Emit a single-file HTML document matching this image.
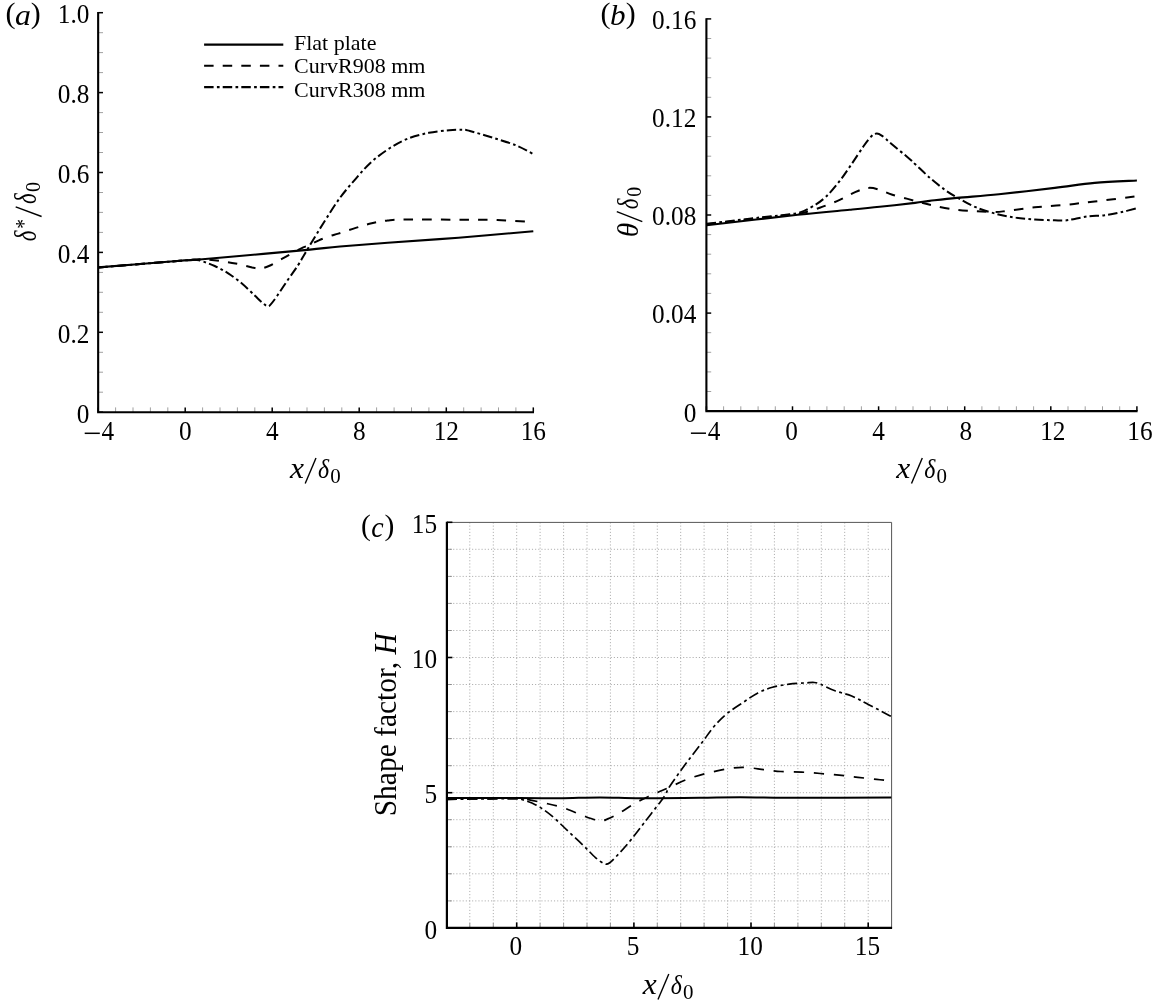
<!DOCTYPE html>
<html><head><meta charset="utf-8"><title>Figure</title>
<style>
html,body{margin:0;padding:0;background:#fff;}
body{width:1152px;height:1007px;overflow:hidden;font-family:"Liberation Serif",serif;}
svg{display:block;will-change:transform;}
</style></head><body>
<svg width="1152" height="1007" viewBox="0 0 1152 1007" font-family="'Liberation Serif', serif" fill="#000">
<rect width="1152" height="1007" fill="#fff"/>
<line x1="98.15" y1="392.2" x2="103.0" y2="392.2" stroke="#888" stroke-width="0.8"/>
<line x1="98.15" y1="372.2" x2="103.0" y2="372.2" stroke="#888" stroke-width="0.8"/>
<line x1="98.15" y1="352.3" x2="103.0" y2="352.3" stroke="#888" stroke-width="0.8"/>
<line x1="98.15" y1="312.3" x2="103.0" y2="312.3" stroke="#888" stroke-width="0.8"/>
<line x1="98.15" y1="292.3" x2="103.0" y2="292.3" stroke="#888" stroke-width="0.8"/>
<line x1="98.15" y1="272.4" x2="103.0" y2="272.4" stroke="#888" stroke-width="0.8"/>
<line x1="98.15" y1="232.4" x2="103.0" y2="232.4" stroke="#888" stroke-width="0.8"/>
<line x1="98.15" y1="212.4" x2="103.0" y2="212.4" stroke="#888" stroke-width="0.8"/>
<line x1="98.15" y1="192.5" x2="103.0" y2="192.5" stroke="#888" stroke-width="0.8"/>
<line x1="98.15" y1="152.5" x2="103.0" y2="152.5" stroke="#888" stroke-width="0.8"/>
<line x1="98.15" y1="132.5" x2="103.0" y2="132.5" stroke="#888" stroke-width="0.8"/>
<line x1="98.15" y1="112.6" x2="103.0" y2="112.6" stroke="#888" stroke-width="0.8"/>
<line x1="98.15" y1="72.6" x2="103.0" y2="72.6" stroke="#888" stroke-width="0.8"/>
<line x1="98.15" y1="52.6" x2="103.0" y2="52.6" stroke="#888" stroke-width="0.8"/>
<line x1="98.15" y1="32.7" x2="103.0" y2="32.7" stroke="#888" stroke-width="0.8"/>
<line x1="98.15" y1="412.2" x2="103.0" y2="412.2" stroke="#000" stroke-width="1.5"/>
<text transform="translate(89.4,422.6) scale(1,1.065)" font-size="25.3" text-anchor="end">0</text>
<line x1="98.15" y1="332.3" x2="103.0" y2="332.3" stroke="#000" stroke-width="1.5"/>
<text transform="translate(89.4,342.7) scale(1,1.065)" font-size="25.3" text-anchor="end">0.2</text>
<line x1="98.15" y1="252.4" x2="103.0" y2="252.4" stroke="#000" stroke-width="1.5"/>
<text transform="translate(89.4,262.8) scale(1,1.065)" font-size="25.3" text-anchor="end">0.4</text>
<line x1="98.15" y1="172.5" x2="103.0" y2="172.5" stroke="#000" stroke-width="1.5"/>
<text transform="translate(89.4,182.9) scale(1,1.065)" font-size="25.3" text-anchor="end">0.6</text>
<line x1="98.15" y1="92.6" x2="103.0" y2="92.6" stroke="#000" stroke-width="1.5"/>
<text transform="translate(89.4,103.0) scale(1,1.065)" font-size="25.3" text-anchor="end">0.8</text>
<line x1="98.15" y1="12.7" x2="103.0" y2="12.7" stroke="#000" stroke-width="1.5"/>
<text transform="translate(89.4,23.1) scale(1,1.065)" font-size="25.3" text-anchor="end">1.0</text>
<line x1="115.6" y1="412.2" x2="115.6" y2="407.4" stroke="#888" stroke-width="0.8"/>
<line x1="133.0" y1="412.2" x2="133.0" y2="407.4" stroke="#888" stroke-width="0.8"/>
<line x1="150.4" y1="412.2" x2="150.4" y2="407.4" stroke="#888" stroke-width="0.8"/>
<line x1="167.8" y1="412.2" x2="167.8" y2="407.4" stroke="#888" stroke-width="0.8"/>
<line x1="202.6" y1="412.2" x2="202.6" y2="407.4" stroke="#888" stroke-width="0.8"/>
<line x1="220.0" y1="412.2" x2="220.0" y2="407.4" stroke="#888" stroke-width="0.8"/>
<line x1="237.4" y1="412.2" x2="237.4" y2="407.4" stroke="#888" stroke-width="0.8"/>
<line x1="254.8" y1="412.2" x2="254.8" y2="407.4" stroke="#888" stroke-width="0.8"/>
<line x1="289.6" y1="412.2" x2="289.6" y2="407.4" stroke="#888" stroke-width="0.8"/>
<line x1="307.0" y1="412.2" x2="307.0" y2="407.4" stroke="#888" stroke-width="0.8"/>
<line x1="324.4" y1="412.2" x2="324.4" y2="407.4" stroke="#888" stroke-width="0.8"/>
<line x1="341.8" y1="412.2" x2="341.8" y2="407.4" stroke="#888" stroke-width="0.8"/>
<line x1="376.6" y1="412.2" x2="376.6" y2="407.4" stroke="#888" stroke-width="0.8"/>
<line x1="394.1" y1="412.2" x2="394.1" y2="407.4" stroke="#888" stroke-width="0.8"/>
<line x1="411.5" y1="412.2" x2="411.5" y2="407.4" stroke="#888" stroke-width="0.8"/>
<line x1="428.9" y1="412.2" x2="428.9" y2="407.4" stroke="#888" stroke-width="0.8"/>
<line x1="463.7" y1="412.2" x2="463.7" y2="407.4" stroke="#888" stroke-width="0.8"/>
<line x1="481.1" y1="412.2" x2="481.1" y2="407.4" stroke="#888" stroke-width="0.8"/>
<line x1="498.5" y1="412.2" x2="498.5" y2="407.4" stroke="#888" stroke-width="0.8"/>
<line x1="515.9" y1="412.2" x2="515.9" y2="407.4" stroke="#888" stroke-width="0.8"/>
<line x1="98.2" y1="412.2" x2="98.2" y2="407.4" stroke="#000" stroke-width="1.5"/>
<line x1="185.2" y1="412.2" x2="185.2" y2="407.4" stroke="#000" stroke-width="1.5"/>
<line x1="272.2" y1="412.2" x2="272.2" y2="407.4" stroke="#000" stroke-width="1.5"/>
<line x1="359.2" y1="412.2" x2="359.2" y2="407.4" stroke="#000" stroke-width="1.5"/>
<line x1="446.3" y1="412.2" x2="446.3" y2="407.4" stroke="#000" stroke-width="1.5"/>
<line x1="533.3" y1="412.2" x2="533.3" y2="407.4" stroke="#000" stroke-width="1.5"/>
<path d="M98.15,12.0 V412.2 H534.0" fill="none" stroke="#000" stroke-width="2.1" stroke-linejoin="miter"/>
<text transform="translate(185.2,439.8) scale(1,1.065)" font-size="25.3" text-anchor="middle">0</text>
<text transform="translate(272.2,439.8) scale(1,1.065)" font-size="25.3" text-anchor="middle">4</text>
<text transform="translate(359.2,439.8) scale(1,1.065)" font-size="25.3" text-anchor="middle">8</text>
<text transform="translate(446.3,439.8) scale(1,1.065)" font-size="25.3" text-anchor="middle">12</text>
<text transform="translate(533.3,439.8) scale(1,1.065)" font-size="25.3" text-anchor="middle">16</text>
<line x1="84.7" y1="433.3" x2="99.8" y2="433.3" stroke="#000" stroke-width="1.5" transform="translate(-0.00,0.0)"/>
<text transform="translate(101.5,439.8) scale(1,1.065)" font-size="25.3" text-anchor="start">4</text>
<path d="M98.3,267.4 C111.9,266.3 163.9,262.1 180.0,260.8 C196.1,259.5 191.5,259.8 195.0,259.8 C198.5,259.8 197.5,259.8 200.8,260.8 C204.1,261.8 210.1,263.9 214.7,266.0 C219.3,268.1 224.0,270.6 228.6,273.6 C233.2,276.6 238.1,280.3 242.5,284.0 C246.9,287.7 251.5,292.6 255.0,295.8 C258.5,299.1 261.2,301.8 263.3,303.5 C265.4,305.2 266.3,305.8 267.5,306.0 C268.7,306.2 268.7,306.6 270.3,304.9 C271.9,303.2 274.2,300.1 277.2,295.8 C280.2,291.5 284.8,284.3 288.3,279.2 C291.8,274.1 295.2,269.6 298.0,265.3 C300.8,261.0 302.7,257.4 305.0,253.5 C307.3,249.6 308.9,246.8 312.0,241.7 C315.1,236.6 318.9,230.2 323.5,223.0 C328.1,215.8 334.3,205.6 339.7,198.2 C345.1,190.8 350.4,184.9 355.7,178.8 C361.0,172.7 366.0,166.8 371.7,161.7 C377.4,156.6 383.9,151.9 390.0,148.0 C396.1,144.1 401.7,141.0 408.2,138.5 C414.7,136.0 421.9,134.2 428.8,132.8 C435.7,131.4 443.6,130.7 449.3,130.2 C455.0,129.7 459.6,129.7 463.0,129.8 C466.4,129.9 464.9,129.7 469.9,131.0 C474.8,132.3 485.1,135.3 492.7,137.7 C500.3,140.1 508.8,142.5 515.6,145.2 C522.4,147.9 530.3,152.6 533.3,154.1" fill="none" stroke="#000" stroke-width="2.0" stroke-dasharray="9.5 3.3 2.7 3.1"/>
<path d="M98.3,267.4 C111.9,266.3 163.1,262.1 180.0,260.8 C196.9,259.5 195.4,259.5 200.0,259.3 C204.6,259.1 204.5,259.2 207.8,259.5 C211.1,259.8 215.4,260.3 220.0,261.0 C224.6,261.7 230.2,262.4 235.6,263.5 C241.0,264.6 248.3,266.5 252.2,267.4 C256.1,268.2 256.4,268.8 259.2,268.6 C262.0,268.4 264.7,267.8 268.9,266.0 C273.1,264.2 278.9,260.5 284.2,257.6 C289.5,254.7 296.5,250.7 300.8,248.6 C305.1,246.5 307.0,246.2 310.0,244.8 C313.0,243.4 315.5,241.8 318.9,240.3 C322.3,238.8 327.4,237.0 330.6,235.9 C333.8,234.8 334.1,234.9 338.3,233.6 C342.5,232.3 350.1,229.6 355.7,227.9 C361.3,226.2 366.4,224.6 371.7,223.3 C377.0,222.1 382.0,221.1 387.7,220.4 C393.4,219.8 394.1,219.5 405.9,219.4 C417.7,219.3 443.3,219.6 458.5,219.7 C473.7,219.8 484.8,219.7 497.3,220.1 C509.8,220.5 527.3,221.8 533.3,222.2" fill="none" stroke="#000" stroke-width="2.0" stroke-dasharray="9.5 9.1"/>
<path d="M98.3,267.4 C111.9,266.3 162.7,262.2 180.0,260.8 C197.3,259.4 188.5,260.3 202.4,259.2 C216.3,258.1 245.4,255.5 263.3,253.9 C281.2,252.3 297.2,250.8 310.0,249.6 C322.8,248.4 327.1,247.6 340.0,246.5 C352.9,245.4 367.9,244.3 387.7,242.8 C407.4,241.3 434.2,239.6 458.5,237.7 C482.8,235.8 520.8,232.3 533.3,231.2" fill="none" stroke="#000" stroke-width="2.1"/>
<line x1="706.4" y1="391.5" x2="711.2" y2="391.5" stroke="#888" stroke-width="0.8"/>
<line x1="706.4" y1="371.9" x2="711.2" y2="371.9" stroke="#888" stroke-width="0.8"/>
<line x1="706.4" y1="352.3" x2="711.2" y2="352.3" stroke="#888" stroke-width="0.8"/>
<line x1="706.4" y1="332.7" x2="711.2" y2="332.7" stroke="#888" stroke-width="0.8"/>
<line x1="706.4" y1="293.4" x2="711.2" y2="293.4" stroke="#888" stroke-width="0.8"/>
<line x1="706.4" y1="273.8" x2="711.2" y2="273.8" stroke="#888" stroke-width="0.8"/>
<line x1="706.4" y1="254.2" x2="711.2" y2="254.2" stroke="#888" stroke-width="0.8"/>
<line x1="706.4" y1="234.6" x2="711.2" y2="234.6" stroke="#888" stroke-width="0.8"/>
<line x1="706.4" y1="195.4" x2="711.2" y2="195.4" stroke="#888" stroke-width="0.8"/>
<line x1="706.4" y1="175.8" x2="711.2" y2="175.8" stroke="#888" stroke-width="0.8"/>
<line x1="706.4" y1="156.2" x2="711.2" y2="156.2" stroke="#888" stroke-width="0.8"/>
<line x1="706.4" y1="136.6" x2="711.2" y2="136.6" stroke="#888" stroke-width="0.8"/>
<line x1="706.4" y1="97.3" x2="711.2" y2="97.3" stroke="#888" stroke-width="0.8"/>
<line x1="706.4" y1="77.7" x2="711.2" y2="77.7" stroke="#888" stroke-width="0.8"/>
<line x1="706.4" y1="58.1" x2="711.2" y2="58.1" stroke="#888" stroke-width="0.8"/>
<line x1="706.4" y1="38.5" x2="711.2" y2="38.5" stroke="#888" stroke-width="0.8"/>
<line x1="706.4" y1="411.1" x2="711.2" y2="411.1" stroke="#000" stroke-width="1.5"/>
<text transform="translate(696.3,421.5) scale(1,1.065)" font-size="25.3" text-anchor="end">0</text>
<line x1="706.4" y1="313.1" x2="711.2" y2="313.1" stroke="#000" stroke-width="1.5"/>
<text transform="translate(696.3,323.4) scale(1,1.065)" font-size="25.3" text-anchor="end">0.04</text>
<line x1="706.4" y1="215.0" x2="711.2" y2="215.0" stroke="#000" stroke-width="1.5"/>
<text transform="translate(696.3,225.4) scale(1,1.065)" font-size="25.3" text-anchor="end">0.08</text>
<line x1="706.4" y1="116.9" x2="711.2" y2="116.9" stroke="#000" stroke-width="1.5"/>
<text transform="translate(696.3,127.3) scale(1,1.065)" font-size="25.3" text-anchor="end">0.12</text>
<line x1="706.4" y1="18.9" x2="711.2" y2="18.9" stroke="#000" stroke-width="1.5"/>
<text transform="translate(696.3,29.3) scale(1,1.065)" font-size="25.3" text-anchor="end">0.16</text>
<line x1="723.6" y1="411.1" x2="723.6" y2="406.3" stroke="#888" stroke-width="0.8"/>
<line x1="740.8" y1="411.1" x2="740.8" y2="406.3" stroke="#888" stroke-width="0.8"/>
<line x1="758.1" y1="411.1" x2="758.1" y2="406.3" stroke="#888" stroke-width="0.8"/>
<line x1="775.3" y1="411.1" x2="775.3" y2="406.3" stroke="#888" stroke-width="0.8"/>
<line x1="809.7" y1="411.1" x2="809.7" y2="406.3" stroke="#888" stroke-width="0.8"/>
<line x1="826.9" y1="411.1" x2="826.9" y2="406.3" stroke="#888" stroke-width="0.8"/>
<line x1="844.2" y1="411.1" x2="844.2" y2="406.3" stroke="#888" stroke-width="0.8"/>
<line x1="861.4" y1="411.1" x2="861.4" y2="406.3" stroke="#888" stroke-width="0.8"/>
<line x1="895.8" y1="411.1" x2="895.8" y2="406.3" stroke="#888" stroke-width="0.8"/>
<line x1="913.0" y1="411.1" x2="913.0" y2="406.3" stroke="#888" stroke-width="0.8"/>
<line x1="930.3" y1="411.1" x2="930.3" y2="406.3" stroke="#888" stroke-width="0.8"/>
<line x1="947.5" y1="411.1" x2="947.5" y2="406.3" stroke="#888" stroke-width="0.8"/>
<line x1="981.9" y1="411.1" x2="981.9" y2="406.3" stroke="#888" stroke-width="0.8"/>
<line x1="999.1" y1="411.1" x2="999.1" y2="406.3" stroke="#888" stroke-width="0.8"/>
<line x1="1016.4" y1="411.1" x2="1016.4" y2="406.3" stroke="#888" stroke-width="0.8"/>
<line x1="1033.6" y1="411.1" x2="1033.6" y2="406.3" stroke="#888" stroke-width="0.8"/>
<line x1="1068.0" y1="411.1" x2="1068.0" y2="406.3" stroke="#888" stroke-width="0.8"/>
<line x1="1085.2" y1="411.1" x2="1085.2" y2="406.3" stroke="#888" stroke-width="0.8"/>
<line x1="1102.5" y1="411.1" x2="1102.5" y2="406.3" stroke="#888" stroke-width="0.8"/>
<line x1="1119.7" y1="411.1" x2="1119.7" y2="406.3" stroke="#888" stroke-width="0.8"/>
<line x1="706.4" y1="411.1" x2="706.4" y2="406.3" stroke="#000" stroke-width="1.5"/>
<line x1="792.5" y1="411.1" x2="792.5" y2="406.3" stroke="#000" stroke-width="1.5"/>
<line x1="878.6" y1="411.1" x2="878.6" y2="406.3" stroke="#000" stroke-width="1.5"/>
<line x1="964.7" y1="411.1" x2="964.7" y2="406.3" stroke="#000" stroke-width="1.5"/>
<line x1="1050.8" y1="411.1" x2="1050.8" y2="406.3" stroke="#000" stroke-width="1.5"/>
<line x1="1136.9" y1="411.1" x2="1136.9" y2="406.3" stroke="#000" stroke-width="1.5"/>
<path d="M706.4,18.2 V411.1 H1137.6" fill="none" stroke="#000" stroke-width="2.1" stroke-linejoin="miter"/>
<text transform="translate(791.5,439.7) scale(1,1.065)" font-size="25.3" text-anchor="middle">0</text>
<text transform="translate(878.6,439.7) scale(1,1.065)" font-size="25.3" text-anchor="middle">4</text>
<text transform="translate(965.7,439.7) scale(1,1.065)" font-size="25.3" text-anchor="middle">8</text>
<text transform="translate(1052.8,439.7) scale(1,1.065)" font-size="25.3" text-anchor="middle">12</text>
<text transform="translate(1139.9,439.7) scale(1,1.065)" font-size="25.3" text-anchor="middle">16</text>
<line x1="692.9" y1="432.2" x2="708.0" y2="432.2" stroke="#000" stroke-width="1.5" transform="translate(-2.00,1.0)"/>
<text transform="translate(707.7,439.7) scale(1,1.065)" font-size="25.3" text-anchor="start">4</text>
<path d="M706.7,223.8 C715.6,222.8 745.1,219.2 760.0,217.5 C774.9,215.8 787.2,215.2 795.8,213.4 C804.4,211.6 806.8,209.6 811.8,206.8 C816.8,204.1 821.1,201.2 825.8,196.9 C830.4,192.6 835.4,186.4 839.7,180.9 C844.0,175.4 847.7,169.7 851.7,163.9 C855.7,158.1 860.4,150.7 863.7,146.0 C867.0,141.3 869.5,138.1 871.7,136.0 C873.9,133.9 875.0,133.7 876.7,133.6 C878.4,133.5 879.2,133.9 881.7,135.6 C884.2,137.3 887.0,140.1 891.6,144.0 C896.2,147.9 905.7,155.6 909.6,158.9 C913.5,162.2 911.5,160.8 915.0,164.0 C918.5,167.2 925.3,173.9 930.3,178.2 C935.3,182.5 940.4,186.6 945.0,189.9 C949.6,193.2 952.9,195.1 957.9,197.9 C962.9,200.7 968.7,204.3 974.9,206.9 C981.1,209.5 988.2,211.7 994.9,213.5 C1001.5,215.3 1008.1,216.5 1014.8,217.5 C1021.4,218.5 1028.1,219.0 1034.8,219.5 C1041.5,220.0 1049.8,220.1 1054.8,220.3 C1059.8,220.5 1061.4,220.7 1064.7,220.5 C1068.0,220.3 1070.7,219.6 1074.7,218.9 C1078.7,218.2 1083.7,216.9 1088.7,216.3 C1093.7,215.7 1099.4,216.0 1104.7,215.3 C1110.0,214.6 1115.2,213.5 1120.6,212.3 C1126.0,211.1 1134.2,209.0 1136.9,208.3" fill="none" stroke="#000" stroke-width="2.0" stroke-dasharray="9.5 3.3 2.7 3.1"/>
<path d="M706.7,224.2 C715.6,223.2 745.3,219.7 760.0,218.0 C774.7,216.3 788.4,214.9 795.0,214.2 C801.6,213.5 795.7,214.9 799.8,213.8 C803.9,212.7 813.1,210.1 819.8,207.8 C826.4,205.5 833.7,202.6 839.7,199.9 C845.7,197.2 850.9,193.9 855.7,191.9 C860.5,189.9 864.7,188.2 868.7,187.9 C872.7,187.6 875.9,188.8 879.7,189.9 C883.5,191.0 887.0,193.0 891.6,194.5 C896.2,196.0 902.7,197.6 907.6,198.9 C912.5,200.2 916.4,201.3 921.0,202.5 C925.6,203.7 929.4,204.7 935.0,205.9 C940.6,207.1 948.2,208.6 954.9,209.5 C961.5,210.4 968.2,210.7 974.9,211.1 C981.6,211.5 989.6,211.9 994.9,211.9 C1000.2,211.9 1000.1,211.7 1006.8,210.9 C1013.4,210.1 1025.1,208.3 1034.8,207.3 C1044.5,206.3 1054.7,205.9 1064.7,204.9 C1074.7,203.9 1082.7,202.9 1094.7,201.5 C1106.7,200.1 1129.9,197.2 1136.9,196.3" fill="none" stroke="#000" stroke-width="2.0" stroke-dasharray="9.5 9.1"/>
<path d="M706.7,225.2 C721.9,223.5 774.0,217.4 797.8,214.8 C821.6,212.2 836.1,211.1 849.7,209.8 C863.4,208.5 868.8,208.0 879.7,206.8 C890.6,205.7 906.7,203.9 915.0,202.9 C923.3,201.9 922.6,201.7 929.6,200.9 C936.6,200.1 945.4,199.0 956.9,197.9 C968.4,196.8 982.6,196.0 998.9,194.3 C1015.2,192.6 1038.8,189.8 1054.8,187.9 C1070.8,186.0 1081.0,184.1 1094.7,182.9 C1108.4,181.7 1129.9,180.9 1136.9,180.5" fill="none" stroke="#000" stroke-width="2.1"/>
<line x1="204.1" y1="44.6" x2="283.3" y2="44.6" stroke="#000" stroke-width="2.1"/>
<line x1="204.1" y1="65.8" x2="283.3" y2="65.8" stroke="#000" stroke-width="2.1" stroke-dasharray="9.5 9.1"/>
<line x1="204.1" y1="87.1" x2="283.3" y2="87.1" stroke="#000" stroke-width="2.1" stroke-dasharray="9.5 3.3 2.7 3.1"/>
<text x="294.0" y="49.5" font-size="22" text-anchor="start">Flat plate</text>
<text x="294.0" y="73.2" font-size="22" text-anchor="start">CurvR908 mm</text>
<text x="294.0" y="96.5" font-size="22" text-anchor="start">CurvR308 mm</text>
<line x1="469.8" y1="522.4" x2="469.8" y2="927.9" stroke="#adadad" stroke-width="1" stroke-dasharray="1.1 2.05"/>
<line x1="493.3" y1="522.4" x2="493.3" y2="927.9" stroke="#adadad" stroke-width="1" stroke-dasharray="1.1 2.05"/>
<line x1="516.7" y1="522.4" x2="516.7" y2="927.9" stroke="#adadad" stroke-width="1" stroke-dasharray="1.1 2.05"/>
<line x1="540.1" y1="522.4" x2="540.1" y2="927.9" stroke="#adadad" stroke-width="1" stroke-dasharray="1.1 2.05"/>
<line x1="563.6" y1="522.4" x2="563.6" y2="927.9" stroke="#adadad" stroke-width="1" stroke-dasharray="1.1 2.05"/>
<line x1="587.0" y1="522.4" x2="587.0" y2="927.9" stroke="#adadad" stroke-width="1" stroke-dasharray="1.1 2.05"/>
<line x1="610.4" y1="522.4" x2="610.4" y2="927.9" stroke="#adadad" stroke-width="1" stroke-dasharray="1.1 2.05"/>
<line x1="633.9" y1="522.4" x2="633.9" y2="927.9" stroke="#adadad" stroke-width="1" stroke-dasharray="1.1 2.05"/>
<line x1="657.3" y1="522.4" x2="657.3" y2="927.9" stroke="#adadad" stroke-width="1" stroke-dasharray="1.1 2.05"/>
<line x1="680.7" y1="522.4" x2="680.7" y2="927.9" stroke="#adadad" stroke-width="1" stroke-dasharray="1.1 2.05"/>
<line x1="704.1" y1="522.4" x2="704.1" y2="927.9" stroke="#adadad" stroke-width="1" stroke-dasharray="1.1 2.05"/>
<line x1="727.6" y1="522.4" x2="727.6" y2="927.9" stroke="#adadad" stroke-width="1" stroke-dasharray="1.1 2.05"/>
<line x1="751.0" y1="522.4" x2="751.0" y2="927.9" stroke="#adadad" stroke-width="1" stroke-dasharray="1.1 2.05"/>
<line x1="774.4" y1="522.4" x2="774.4" y2="927.9" stroke="#adadad" stroke-width="1" stroke-dasharray="1.1 2.05"/>
<line x1="797.9" y1="522.4" x2="797.9" y2="927.9" stroke="#adadad" stroke-width="1" stroke-dasharray="1.1 2.05"/>
<line x1="821.3" y1="522.4" x2="821.3" y2="927.9" stroke="#adadad" stroke-width="1" stroke-dasharray="1.1 2.05"/>
<line x1="844.7" y1="522.4" x2="844.7" y2="927.9" stroke="#adadad" stroke-width="1" stroke-dasharray="1.1 2.05"/>
<line x1="868.2" y1="522.4" x2="868.2" y2="927.9" stroke="#adadad" stroke-width="1" stroke-dasharray="1.1 2.05"/>
<line x1="446.9" y1="900.9" x2="891.6" y2="900.9" stroke="#adadad" stroke-width="1" stroke-dasharray="1.1 2.05"/>
<line x1="446.9" y1="873.8" x2="891.6" y2="873.8" stroke="#adadad" stroke-width="1" stroke-dasharray="1.1 2.05"/>
<line x1="446.9" y1="846.8" x2="891.6" y2="846.8" stroke="#adadad" stroke-width="1" stroke-dasharray="1.1 2.05"/>
<line x1="446.9" y1="819.7" x2="891.6" y2="819.7" stroke="#adadad" stroke-width="1" stroke-dasharray="1.1 2.05"/>
<line x1="446.9" y1="792.7" x2="891.6" y2="792.7" stroke="#adadad" stroke-width="1" stroke-dasharray="1.1 2.05"/>
<line x1="446.9" y1="765.7" x2="891.6" y2="765.7" stroke="#adadad" stroke-width="1" stroke-dasharray="1.1 2.05"/>
<line x1="446.9" y1="738.6" x2="891.6" y2="738.6" stroke="#adadad" stroke-width="1" stroke-dasharray="1.1 2.05"/>
<line x1="446.9" y1="711.6" x2="891.6" y2="711.6" stroke="#adadad" stroke-width="1" stroke-dasharray="1.1 2.05"/>
<line x1="446.9" y1="684.5" x2="891.6" y2="684.5" stroke="#adadad" stroke-width="1" stroke-dasharray="1.1 2.05"/>
<line x1="446.9" y1="657.5" x2="891.6" y2="657.5" stroke="#adadad" stroke-width="1" stroke-dasharray="1.1 2.05"/>
<line x1="446.9" y1="630.5" x2="891.6" y2="630.5" stroke="#adadad" stroke-width="1" stroke-dasharray="1.1 2.05"/>
<line x1="446.9" y1="603.4" x2="891.6" y2="603.4" stroke="#adadad" stroke-width="1" stroke-dasharray="1.1 2.05"/>
<line x1="446.9" y1="576.4" x2="891.6" y2="576.4" stroke="#adadad" stroke-width="1" stroke-dasharray="1.1 2.05"/>
<line x1="446.9" y1="549.3" x2="891.6" y2="549.3" stroke="#adadad" stroke-width="1" stroke-dasharray="1.1 2.05"/>
<path d="M446.9,522.4 H891.6 V927.9" fill="none" stroke="#555" stroke-width="1"/>
<line x1="469.8" y1="927.9" x2="469.8" y2="922.9" stroke="#888" stroke-width="0.9"/>
<line x1="493.3" y1="927.9" x2="493.3" y2="922.9" stroke="#888" stroke-width="0.9"/>
<line x1="516.7" y1="927.9" x2="516.7" y2="922.4" stroke="#000" stroke-width="1.6"/>
<line x1="540.1" y1="927.9" x2="540.1" y2="922.9" stroke="#888" stroke-width="0.9"/>
<line x1="563.6" y1="927.9" x2="563.6" y2="922.9" stroke="#888" stroke-width="0.9"/>
<line x1="587.0" y1="927.9" x2="587.0" y2="922.9" stroke="#888" stroke-width="0.9"/>
<line x1="610.4" y1="927.9" x2="610.4" y2="922.9" stroke="#888" stroke-width="0.9"/>
<line x1="633.9" y1="927.9" x2="633.9" y2="922.4" stroke="#000" stroke-width="1.6"/>
<line x1="657.3" y1="927.9" x2="657.3" y2="922.9" stroke="#888" stroke-width="0.9"/>
<line x1="680.7" y1="927.9" x2="680.7" y2="922.9" stroke="#888" stroke-width="0.9"/>
<line x1="704.1" y1="927.9" x2="704.1" y2="922.9" stroke="#888" stroke-width="0.9"/>
<line x1="727.6" y1="927.9" x2="727.6" y2="922.9" stroke="#888" stroke-width="0.9"/>
<line x1="751.0" y1="927.9" x2="751.0" y2="922.4" stroke="#000" stroke-width="1.6"/>
<line x1="774.4" y1="927.9" x2="774.4" y2="922.9" stroke="#888" stroke-width="0.9"/>
<line x1="797.9" y1="927.9" x2="797.9" y2="922.9" stroke="#888" stroke-width="0.9"/>
<line x1="821.3" y1="927.9" x2="821.3" y2="922.9" stroke="#888" stroke-width="0.9"/>
<line x1="844.7" y1="927.9" x2="844.7" y2="922.9" stroke="#888" stroke-width="0.9"/>
<line x1="868.2" y1="927.9" x2="868.2" y2="922.4" stroke="#000" stroke-width="1.6"/>
<line x1="446.9" y1="927.9" x2="452.4" y2="927.9" stroke="#000" stroke-width="1.6"/>
<line x1="446.9" y1="900.9" x2="451.9" y2="900.9" stroke="#888" stroke-width="0.9"/>
<line x1="446.9" y1="873.8" x2="451.9" y2="873.8" stroke="#888" stroke-width="0.9"/>
<line x1="446.9" y1="846.8" x2="451.9" y2="846.8" stroke="#888" stroke-width="0.9"/>
<line x1="446.9" y1="819.7" x2="451.9" y2="819.7" stroke="#888" stroke-width="0.9"/>
<line x1="446.9" y1="792.7" x2="452.4" y2="792.7" stroke="#000" stroke-width="1.6"/>
<line x1="446.9" y1="765.7" x2="451.9" y2="765.7" stroke="#888" stroke-width="0.9"/>
<line x1="446.9" y1="738.6" x2="451.9" y2="738.6" stroke="#888" stroke-width="0.9"/>
<line x1="446.9" y1="711.6" x2="451.9" y2="711.6" stroke="#888" stroke-width="0.9"/>
<line x1="446.9" y1="684.5" x2="451.9" y2="684.5" stroke="#888" stroke-width="0.9"/>
<line x1="446.9" y1="657.5" x2="452.4" y2="657.5" stroke="#000" stroke-width="1.6"/>
<line x1="446.9" y1="630.5" x2="451.9" y2="630.5" stroke="#888" stroke-width="0.9"/>
<line x1="446.9" y1="603.4" x2="451.9" y2="603.4" stroke="#888" stroke-width="0.9"/>
<line x1="446.9" y1="576.4" x2="451.9" y2="576.4" stroke="#888" stroke-width="0.9"/>
<line x1="446.9" y1="549.3" x2="451.9" y2="549.3" stroke="#888" stroke-width="0.9"/>
<line x1="446.9" y1="522.3" x2="452.4" y2="522.3" stroke="#000" stroke-width="1.6"/>
<path d="M446.9,799.3 C454.1,799.2 478.6,798.9 490.0,798.8 C501.4,798.7 510.0,798.6 515.0,798.6 C520.0,798.6 516.4,797.9 519.9,798.9 C523.4,799.9 530.5,802.1 535.8,804.9 C541.1,807.7 546.5,811.6 551.8,815.9 C557.1,820.2 562.5,825.9 567.8,830.9 C573.1,835.9 579.1,841.3 583.7,845.8 C588.4,850.3 592.2,854.8 595.7,857.8 C599.2,860.8 602.4,863.0 604.7,863.8 C607.0,864.6 607.2,864.6 609.7,862.8 C612.2,861.0 616.0,856.8 619.7,852.8 C623.4,848.8 627.4,844.2 631.7,838.9 C636.0,833.6 641.0,826.9 645.6,820.9 C650.2,814.9 656.3,807.2 659.6,802.9 C662.9,798.6 663.5,797.8 665.2,795.0 C666.9,792.2 666.7,791.0 670.0,786.0 C673.3,781.0 679.7,772.0 685.0,764.8 C690.3,757.6 696.8,749.3 701.7,742.9 C706.6,736.5 710.0,731.1 714.2,726.3 C718.4,721.4 721.9,717.8 726.7,713.8 C731.6,709.8 738.1,705.8 743.3,702.3 C748.5,698.8 753.0,695.4 757.9,692.9 C762.8,690.4 767.3,688.8 772.5,687.3 C777.7,685.8 783.7,684.9 789.2,684.2 C794.8,683.5 801.6,683.2 805.8,682.9 C810.0,682.6 811.8,682.3 814.2,682.5 C816.6,682.7 816.9,682.8 820.4,684.2 C823.9,685.6 829.8,688.8 835.0,690.8 C840.2,692.8 846.2,693.7 851.7,696.0 C857.2,698.3 862.0,701.2 868.3,704.4 C874.5,707.6 885.4,713.4 889.2,715.4 C893.0,717.4 890.9,716.3 891.3,716.5" fill="none" stroke="#000" stroke-width="1.7" stroke-dasharray="10.3 3.6 2.9 3.4"/>
<path d="M446.9,799.3 C454.1,799.2 478.5,798.9 490.0,798.8 C501.5,798.7 510.4,798.6 516.0,798.6 C521.6,798.6 519.3,798.2 523.9,798.9 C528.5,799.6 537.1,801.4 543.8,802.9 C550.4,804.4 557.1,805.7 563.8,807.9 C570.4,810.1 577.7,813.7 583.7,815.9 C589.7,818.1 595.7,820.4 599.7,820.9 C603.7,821.4 604.4,820.2 607.7,818.9 C611.0,817.6 615.1,815.6 619.7,812.9 C624.4,810.2 630.6,805.7 635.6,802.9 C640.6,800.1 645.6,797.8 649.6,795.9 C653.6,794.0 656.2,793.0 659.6,791.5 C663.0,790.0 665.4,789.0 670.0,787.0 C674.6,785.0 681.1,781.6 687.1,779.4 C693.1,777.1 699.2,775.2 705.8,773.5 C712.4,771.8 720.5,770.0 726.7,769.0 C733.0,768.0 737.0,767.2 743.3,767.3 C749.5,767.4 758.0,768.9 764.2,769.6 C770.5,770.3 774.5,771.1 780.8,771.5 C787.0,771.9 795.1,771.8 801.7,772.1 C808.3,772.4 814.1,773.0 820.4,773.5 C826.6,774.0 833.0,774.6 839.2,775.2 C845.5,775.8 851.6,776.6 857.9,777.3 C864.1,778.0 871.1,778.8 876.7,779.4 C882.3,780.0 888.9,780.7 891.3,781.0" fill="none" stroke="#000" stroke-width="1.7" stroke-dasharray="10.3 9.8"/>
<path d="M446.9,798.1 C459.1,798.1 501.1,798.0 520.0,798.0 C538.9,798.0 546.7,798.4 560.0,798.3 C573.3,798.2 586.7,797.4 600.0,797.4 C613.3,797.4 623.3,798.1 640.0,798.2 C656.7,798.3 683.3,798.0 700.0,797.8 C716.7,797.6 723.3,797.2 740.0,797.2 C756.7,797.2 774.8,797.8 800.0,797.8 C825.2,797.8 876.1,797.5 891.3,797.5" fill="none" stroke="#000" stroke-width="2.0"/>
<path d="M446.9,521.7 V927.9 H892.1" fill="none" stroke="#000" stroke-width="2.2"/>
<text transform="translate(437.1,938.5) scale(1,1.065)" font-size="25.3" text-anchor="end">0</text>
<text transform="translate(515.9,955.3) scale(1,1.065)" font-size="25.3" text-anchor="middle">0</text>
<text transform="translate(437.1,803.3) scale(1,1.065)" font-size="25.3" text-anchor="end">5</text>
<text transform="translate(633.1,955.3) scale(1,1.065)" font-size="25.3" text-anchor="middle">5</text>
<text transform="translate(437.1,668.1) scale(1,1.065)" font-size="25.3" text-anchor="end">10</text>
<text transform="translate(750.2,955.3) scale(1,1.065)" font-size="25.3" text-anchor="middle">10</text>
<text transform="translate(437.1,532.9) scale(1,1.065)" font-size="25.3" text-anchor="end">15</text>
<text transform="translate(867.4,955.3) scale(1,1.065)" font-size="25.3" text-anchor="middle">15</text>
<text transform="translate(5.44,23.49) scale(0.3020,0.2911)" font-size="100">(</text>
<text transform="translate(14.94,25.21) scale(0.3186,0.2854)" font-size="100" font-style="italic">a</text>
<text transform="translate(30.66,23.49) scale(0.2981,0.2911)" font-size="100">)</text>
<text transform="translate(600.44,23.49) scale(0.3020,0.2911)" font-size="100">(</text>
<text transform="translate(609.95,25.00) scale(0.3116,0.3014)" font-size="100" font-style="italic">b</text>
<text transform="translate(625.66,23.49) scale(0.2981,0.2911)" font-size="100">)</text>
<text transform="translate(360.98,535.36) scale(0.2941,0.2878)" font-size="100">(</text>
<text transform="translate(371.16,537.00) scale(0.2790,0.2958)" font-size="100" font-style="italic">c</text>
<text transform="translate(384.41,535.36) scale(0.2962,0.2878)" font-size="100">)</text>
<g transform="translate(0,0)">
<text transform="translate(290.01,478.00) scale(0.3146,0.2901)" font-size="100" font-style="italic">x</text>
<line x1="316.0" y1="458.0" x2="305.2" y2="483.5" stroke="#000" stroke-width="1.4"/>
<text transform="translate(317.89,477.62) scale(0.2382,0.2823)" font-size="100" font-style="italic">δ</text>
<text transform="translate(330.26,482.89) scale(0.2095,0.2059)" font-size="100">0</text>
</g>
<g transform="translate(606.3,0)">
<text transform="translate(290.01,478.00) scale(0.3146,0.2901)" font-size="100" font-style="italic">x</text>
<line x1="316.0" y1="458.0" x2="305.2" y2="483.5" stroke="#000" stroke-width="1.4"/>
<text transform="translate(317.89,477.62) scale(0.2382,0.2823)" font-size="100" font-style="italic">δ</text>
<text transform="translate(330.26,482.89) scale(0.2095,0.2059)" font-size="100">0</text>
</g>
<g transform="translate(352.8,516)">
<text transform="translate(290.01,478.00) scale(0.3146,0.2901)" font-size="100" font-style="italic">x</text>
<line x1="316.0" y1="458.0" x2="305.2" y2="483.5" stroke="#000" stroke-width="1.4"/>
<text transform="translate(317.89,477.62) scale(0.2382,0.2823)" font-size="100" font-style="italic">δ</text>
<text transform="translate(330.26,482.89) scale(0.2095,0.2059)" font-size="100">0</text>
</g>
<text transform="translate(36.39,241.29) rotate(-90) scale(0.2292,0.3064)" font-size="100" font-style="italic">δ</text>
<text transform="translate(30.74,228.77) rotate(-90) scale(0.1950,0.2329)" font-size="100">*</text>
<line x1="15.7" y1="206.9" x2="41.6" y2="216.5" stroke="#000" stroke-width="1.4"/>
<text transform="translate(36.39,204.09) rotate(-90) scale(0.2292,0.3064)" font-size="100" font-style="italic">δ</text>
<text transform="translate(40.40,191.91) rotate(-90) scale(0.2024,0.2044)" font-size="100">0</text>
<text transform="translate(637.51,237.28) rotate(-90) scale(0.2952,0.2944)" font-size="100" font-style="italic">θ</text>
<line x1="616.8" y1="211.7" x2="642.3" y2="221.6" stroke="#000" stroke-width="1.4"/>
<text transform="translate(637.50,209.29) rotate(-90) scale(0.2292,0.2965)" font-size="100" font-style="italic">δ</text>
<text transform="translate(641.00,196.69) rotate(-90) scale(0.1976,0.2000)" font-size="100">0</text>
<text transform="translate(395.5,816.3) rotate(-90)" font-size="31" textLength="183" lengthAdjust="spacingAndGlyphs">Shape factor, <tspan font-style="italic">H</tspan></text>
</svg>
</body></html>
